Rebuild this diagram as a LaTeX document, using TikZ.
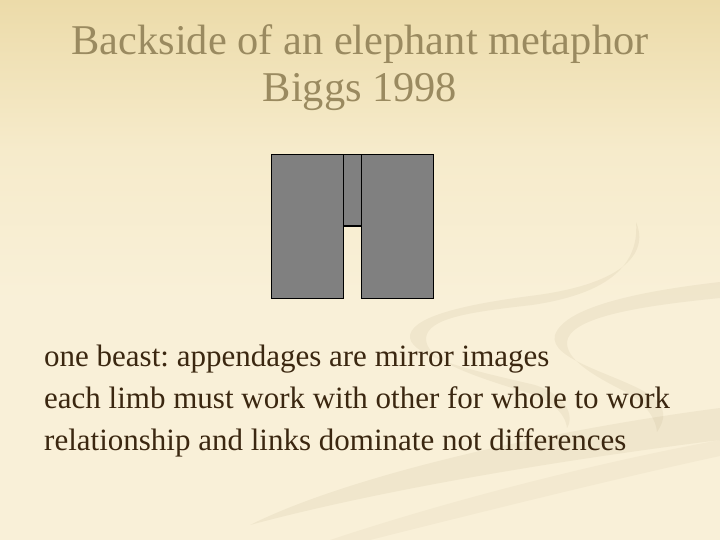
\documentclass[tikz,border=0pt]{standalone}
\usepackage{fontspec}
\setmainfont{Liberation Serif}
\frenchspacing
\definecolor{bgtop}{HTML}{ECDBA9}
\definecolor{bgmid}{HTML}{F6EBCB}
\definecolor{bgbot}{HTML}{F9F0D8}
\definecolor{titlecol}{HTML}{9A8A60}
\definecolor{bodycol}{HTML}{3B2710}
\definecolor{swoosh}{HTML}{A89870}
\definecolor{blockgray}{HTML}{808080}
\tikzset{
  block/.style={draw=black, line width=1.2pt, fill=blockgray, rectangle, inner sep=0pt, outer sep=0pt},
  titletext/.style={text=titlecol, font=\fontsize{42.4}{48}\selectfont, inner sep=0pt, anchor=base},
  bodytext/.style={text=bodycol, font=\fontsize{31}{36}\selectfont, inner sep=0pt, anchor=base west},
  swooshfill/.style={fill=swoosh, fill opacity=0.11, draw=none}
}
\begin{document}
\begin{tikzpicture}[x=1pt, y=-1pt]
\useasboundingbox (0,0) rectangle (720,540);
% background
\fill[bgbot] (0,0) rectangle (720,540);
\shade[top color=bgtop, bottom color=bgbot, middle color=bgmid] (0,0) rectangle (720,300);
% swooshes
\fill[swooshfill] (636,222) .. controls (650,255) and (620,285) .. (530,296)
  .. controls (460,305) and (408,318) .. (410,338)
  .. controls (413,358) and (480,372) .. (535,385)
  .. controls (565,395) and (575,415) .. (567,428)
  .. controls (565,412) and (550,400) .. (525,392)
  .. controls (470,375) and (425,360) .. (426,338)
  .. controls (428,318) and (470,312) .. (532,305)
  .. controls (600,295) and (640,270) .. (636,222) -- cycle;
\fill[swooshfill] (720,282) .. controls (650,290) and (565,305) .. (555,335)
  .. controls (548,360) and (620,375) .. (650,395)
  .. controls (668,408) and (665,420) .. (657,432)
  .. controls (656,420) and (648,406) .. (628,393)
  .. controls (585,372) and (562,355) .. (568,338)
  .. controls (578,315) and (650,305) .. (720,298) -- cycle;
\fill[swooshfill] (250,525) .. controls (350,475) and (550,430) .. (720,408)
  -- (720,440) .. controls (560,460) and (380,490) .. (250,525) -- cycle;
\fill[swooshfill, fill opacity=0.07] (330,540) .. controls (450,500) and (600,462) .. (720,440)
  -- (720,456) .. controls (600,482) and (450,520) .. (370,540) -- cycle;
% title
\node[titletext] (t1) at (360,54.3) {Backside of an elephant metaphor};
\node[titletext] (t2) at (360,102) {Biggs 1998};
% blocks
\node[block, minimum width=18pt, minimum height=71.7pt, anchor=north west] (mid) at (343.3,154.3) {};
\node[block, minimum width=72pt, minimum height=144pt, anchor=north west] (left) at (271.3,154.3) {};
\node[block, minimum width=72.4pt, minimum height=144pt, anchor=north west] (right) at (361.3,154.3) {};
% body
\node[bodytext] (b1) at (44,366.5) {one beast: appendages are mirror images};
\node[bodytext] (b2) at (44,408.5) {each limb must work with other for whole to work};
\node[bodytext] (b3) at (44,450) {relationship and links dominate not differences};
\end{tikzpicture}
\end{document}
